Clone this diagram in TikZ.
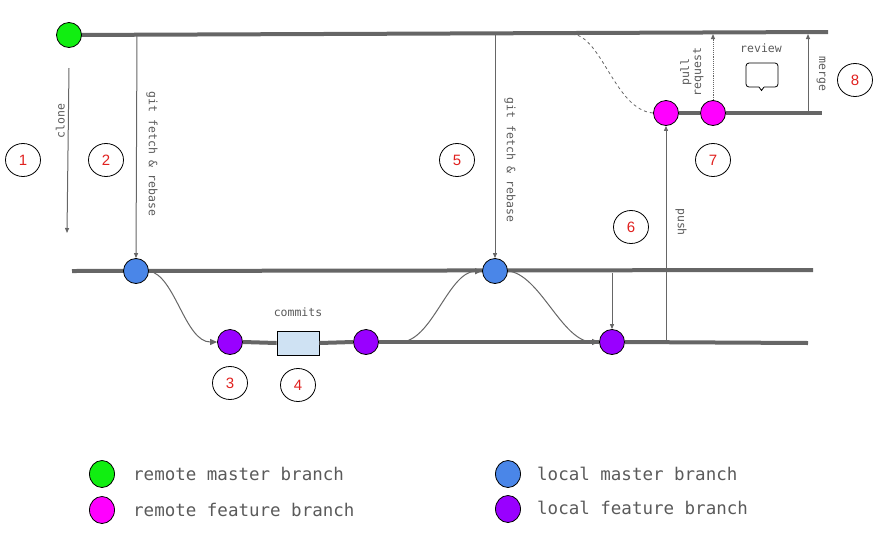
\documentclass[tikz,border=0pt]{standalone}
\usepackage{fontspec}
\setmainfont{Liberation Sans}
\newfontfamily\monofont{DejaVu Sans Mono}
\usetikzlibrary{arrows.meta,shapes.geometric}
\definecolor{branchgray}{HTML}{666666}
\definecolor{txtgray}{HTML}{5A5A5A}
\definecolor{cgreen}{HTML}{11EE11}
\definecolor{cmagenta}{HTML}{FF00FF}
\definecolor{cblue}{HTML}{4A86E8}
\definecolor{cpurple}{HTML}{9900FF}
\definecolor{boxblue}{HTML}{CFE2F3}
\definecolor{numred}{HTML}{E0201E}
\tikzset{
  branch/.style={draw=branchgray, line width=4pt},
  commitdot/.style={circle, draw=black, line width=0.8pt, minimum size=25pt, inner sep=0pt},
  legdot/.style={ellipse, draw=black, line width=0.8pt, minimum width=25pt, minimum height=27pt, inner sep=0pt},
  conn/.style={draw=branchgray, line width=1pt},
  arr/.style={conn, -{Triangle[length=7pt,width=6pt]}},
  smallarr/.style={conn, -{Triangle[length=5pt,width=4pt]}},
  stepnum/.style={ellipse, draw=black, line width=0.8pt, minimum width=35pt, minimum height=33pt, inner sep=0pt, text=numred, font=\fontsize{15}{15}\selectfont},
  lbl/.style={text=txtgray, font=\monofont\fontsize{11.5}{13}\selectfont, inner sep=1pt},
  legend/.style={text=txtgray, font=\monofont\fontsize{17.5}{20}\selectfont, anchor=west, inner sep=0pt},
}
\begin{document}
\begin{tikzpicture}[x=1pt,y=-1pt]
\useasboundingbox (0,0) rectangle (879,547);
% branch lines
\coordinate (rmS) at (70,35);
\coordinate (rmE) at (828,32);
\draw[branch] (rmS) -- (rmE);
\coordinate (lmS) at (72,271);
\coordinate (lmE) at (813,270);
\draw[branch] (lmS) -- (lmE);
\coordinate (lfE) at (808,343);
\coordinate (rfE) at (822,113);
% nodes
\node[commitdot, fill=cgreen] (g) at (69,35) {};
\node[commitdot, fill=cblue] (b1) at (136,271) {};
\node[commitdot, fill=cblue] (b2) at (495,271) {};
\node[commitdot, fill=cpurple] (p1) at (230,342) {};
\node[draw=black, line width=0.8pt, fill=boxblue, minimum width=42pt, minimum height=24pt, inner sep=0pt] (box) at (298,343) {};
\node[commitdot, fill=cpurple] (p2) at (366,342) {};
\node[commitdot, fill=cpurple] (p3) at (612,342) {};
\node[commitdot, fill=cmagenta] (m1) at (666,113) {};
\node[commitdot, fill=cmagenta] (m2) at (713,113) {};
% feature lines
\draw[branch] (p1.east) -- (box.west);
\draw[branch] (box.east) -- (p2.west);
\draw[branch] (p2.east) -- (p3.west);
\draw[branch] (p3.east) -- (lfE);
\draw[branch] (m1.east) -- (m2.west);
\draw[branch] (m2.east) -- (rfE);
% clone
\coordinate (c1) at (69,68);
\coordinate (c2) at (67,233);
\draw[smallarr] (c1) -- node[lbl, rotate=90, above=2pt, pos=0.32] {clone} (c2);
% fetch 1
\coordinate (f1) at (137,35);
\draw[smallarr] (f1) -- (b1.north);
\node[lbl, rotate=-90] (fl1) at (152,154) {git fetch \& rebase};
% fetch 2
\coordinate (f2) at (495,35);
\draw[smallarr] (f2) -- (b2.north);
\node[lbl, rotate=-90] (fl2) at (510,160) {git fetch \& rebase};
% curves
\draw[arr] (b1.east) .. controls (175,275) and (185,342) .. (p1.west);
\coordinate (p2o) at (400,342);
\draw[arr] (p2o) .. controls (432,342) and (448,272) .. (b2.west);
\draw[arr] (b2.east) .. controls (540,274) and (562,342) .. (p3.west);
% 6 arrow
\coordinate (s6) at (612,273);
\draw[smallarr] (s6) -- (p3.north);
% push
\coordinate (ps) at (666,343);
\draw[smallarr] (ps) -- (m1.south);
\node[lbl, rotate=-90] (pushl) at (681,222) {push};
% dashed branch-off
\coordinate (d0) at (572,34);
\draw[branchgray, dashed, line width=0.8pt] (d0) .. controls (602,36) and (615,110) .. (m1.west);
% pull request
\coordinate (pr) at (713,34);
\draw[branchgray, densely dotted, line width=0.9pt, -{Triangle[length=5pt,width=4pt]}] (m2.north) -- (pr);
\node[lbl, rotate=90, align=center, font=\monofont\fontsize{11.5}{12}\selectfont] (prl) at (692,72) {pull\\request};
% review
\node[lbl] (rev) at (761,48) {review};
\draw[black, line width=0.8pt, rounded corners=3pt] (759,87) -- (746,87) -- (746,63) -- (778,63) -- (778,87) -- (764,87);
\draw[black, line width=0.8pt] (759,87) -- (761.5,90.5) -- (764,87);
% merge
\coordinate (mg1) at (808,113);
\coordinate (mg2) at (808,34);
\draw[smallarr] (mg1) -- (mg2);
\node[lbl, rotate=-90] (mgl) at (821,74) {merge};
% commits label
\node[lbl] (cl) at (298,312) {commits};
% step numbers
\node[stepnum] (n1) at (23,160) {1};
\node[stepnum] (n2) at (106,160) {2};
\node[stepnum] (n3) at (230,383) {3};
\node[stepnum] (n4) at (298,385) {4};
\node[stepnum] (n5) at (457,160) {5};
\node[stepnum] (n6) at (631,227) {6};
\node[stepnum] (n7) at (713,160) {7};
\node[stepnum] (n8) at (855,80) {8};
% legend
\node[legdot, fill=cgreen] (lg1) at (102,474) {};
\node[legend] (lt1) at (133,474) {remote master branch};
\node[legdot, fill=cmagenta] (lg2) at (102,510) {};
\node[legend] (lt2) at (133,510) {remote feature branch};
\node[legdot, fill=cblue] (lg3) at (508,474) {};
\node[legend] (lt3) at (537,474) {local master branch};
\node[legdot, fill=cpurple] (lg4) at (508,509) {};
\node[legend] (lt4) at (537,508) {local feature branch};
\end{tikzpicture}
\end{document}
